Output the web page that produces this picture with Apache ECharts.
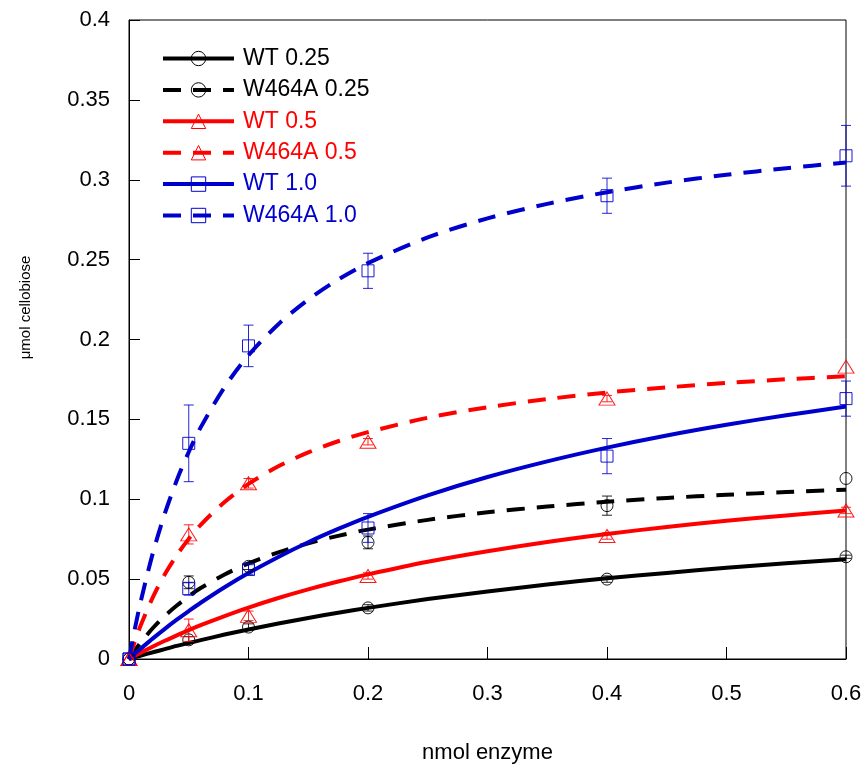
<!DOCTYPE html>
<html>
<head>
<meta charset="utf-8">
<script src="https://cdn.jsdelivr.net/npm/echarts@6/dist/echarts.min.js"></script>
<style>html,body{margin:0;padding:0;background:#fff}#c{width:866px;height:769px}</style>
</head>
<body>
<div id="c"></div>
<script>
// Measured points (x = nmol enzyme)
const xPts = [0, 0.05, 0.1, 0.2, 0.4, 0.6];
const wt025 = [0, 0.012, 0.020, 0.032, 0.050, 0.064];
const wt025Err = [0, 0.002, 0.002, 0.002, 0.002, 0.001];
const w464a025 = [0, 0.048, 0.058, 0.073, 0.096, 0.113];
const w464a025Err = [0, 0.004, 0.002, 0.004, 0.006, 0];
const wt05 = [0, 0.018, 0.027, 0.052, 0.077, 0.093];
const wt05Err = [0, 0.007, 0.003, 0.002, 0.002, 0.002];
const w464a05 = [0, 0.078, 0.110, 0.136, 0.163, 0.183];
const w464a05Err = [0, 0.006, 0.003, 0.002, 0.002, 0];
const wt10 = [0, 0.044, 0.056, 0.082, 0.127, 0.163];
const wt10Err = [0, 0.004, 0.003, 0.009, 0.011, 0.011];
const w464a10 = [0, 0.135, 0.196, 0.243, 0.290, 0.315];
const w464a10Err = [0, 0.024, 0.013, 0.011, 0.011, 0.019];

// Fitted curves at these x positions
const fitX = [0, 0.005, 0.01, 0.02, 0.03, 0.04, 0.05, 0.06, 0.08, 0.1, 0.125, 0.15, 0.175, 0.2, 0.25, 0.3, 0.35, 0.4, 0.45, 0.5, 0.55, 0.6];
const wt025Fit = [0, 0.0011, 0.0022, 0.0042, 0.0062, 0.0082, 0.0100, 0.0118, 0.0153, 0.0185, 0.0222, 0.0257, 0.0290, 0.0320, 0.0375, 0.0423, 0.0466, 0.0505, 0.0539, 0.0571, 0.0599, 0.0625];
const w464a025Fit = [0, 0.0055, 0.0105, 0.0194, 0.0270, 0.0335, 0.0393, 0.0444, 0.0529, 0.0598, 0.0668, 0.0724, 0.0771, 0.0810, 0.0871, 0.0918, 0.0954, 0.0984, 0.1008, 0.1028, 0.1045, 0.1060];
const wt05Fit = [0, 0.0020, 0.0040, 0.0078, 0.0114, 0.0148, 0.0181, 0.0212, 0.0269, 0.0322, 0.0382, 0.0436, 0.0485, 0.0530, 0.0609, 0.0675, 0.0733, 0.0783, 0.0826, 0.0865, 0.0899, 0.0930];
const w464a05Fit = [0, 0.0113, 0.0214, 0.0387, 0.0530, 0.0650, 0.0752, 0.0840, 0.0983, 0.1096, 0.1206, 0.1293, 0.1363, 0.1420, 0.1510, 0.1576, 0.1627, 0.1668, 0.1700, 0.1728, 0.1751, 0.1770];
const wt10Fit = [0, 0.0034, 0.0066, 0.0129, 0.0189, 0.0246, 0.0300, 0.0352, 0.0449, 0.0538, 0.0639, 0.0731, 0.0814, 0.0890, 0.1024, 0.1139, 0.1237, 0.1323, 0.1399, 0.1466, 0.1526, 0.1580];
const w464a10Fit = [0, 0.0193, 0.0366, 0.0664, 0.0911, 0.1119, 0.1296, 0.1450, 0.1702, 0.1901, 0.2096, 0.2250, 0.2375, 0.2478, 0.2639, 0.2758, 0.2849, 0.2922, 0.2982, 0.3031, 0.3072, 0.3108];

const names = ['WT 0.25', 'W464A 0.25', 'WT 0.5', 'W464A 0.5', 'WT 1.0', 'W464A 1.0'];
const xTicks = [0, 0.1, 0.2, 0.3, 0.4, 0.5, 0.6];

const BLACK = '#000000', RED = '#ff0000', BLUE = '#0000cc';
const groups = [
  {name: names[0], y: wt025, e: wt025Err, fit: wt025Fit, color: BLACK, dashed: false, sym: 'circle', size: 12},
  {name: names[1], y: w464a025, e: w464a025Err, fit: w464a025Fit, color: BLACK, dashed: true, sym: 'circle', size: 12},
  {name: names[2], y: wt05, e: wt05Err, fit: wt05Fit, color: RED, dashed: false, sym: 'triangle', size: [16, 13]},
  {name: names[3], y: w464a05, e: w464a05Err, fit: w464a05Fit, color: RED, dashed: true, sym: 'triangle', size: [16, 13]},
  {name: names[4], y: wt10, e: wt10Err, fit: wt10Fit, color: BLUE, dashed: false, sym: 'rect', size: 12},
  {name: names[5], y: w464a10, e: w464a10Err, fit: w464a10Fit, color: BLUE, dashed: true, sym: 'rect', size: 12}
];

const FONT = 'Liberation Sans, Arial, sans-serif';
const series = [];
groups.forEach(g => {
  series.push({
    name: g.name, type: 'line', smooth: 0.3,
    data: fitX.map((x, i) => [x, g.fit[i]]),
    showSymbol: false, symbol: g.sym, symbolSize: g.size,
    itemStyle: {color: 'rgba(255,255,255,0)', borderColor: g.color, borderWidth: 1},
    lineStyle: {color: g.color, width: 4, type: g.dashed ? [18, 12] : 'solid', cap: 'butt'},
    emphasis: {disabled: true}, z: 2, silent: true
  });
});
groups.forEach(g => {
  series.push({
    name: g.name + ' err', type: 'custom',
    data: xPts.map((x, i) => [x, g.y[i], g.e[i]]),
    renderItem: function (params, api) {
      const x = api.value(0), y = api.value(1), e = api.value(2);
      if (!e) return null;
      const top = api.coord([x, y + e]);
      const bot = api.coord([x, y - e]);
      const hw = 5;
      const st = {stroke: g.color, lineWidth: 1, opacity: 0.85};
      return {type: 'group', children: [
        {type: 'line', shape: {x1: top[0], y1: top[1], x2: bot[0], y2: bot[1]}, style: st},
        {type: 'line', shape: {x1: top[0] - hw, y1: top[1], x2: top[0] + hw, y2: top[1]}, style: st},
        {type: 'line', shape: {x1: bot[0] - hw, y1: bot[1], x2: bot[0] + hw, y2: bot[1]}, style: st}
      ]};
    },
    z: 3, silent: true
  });
});
groups.forEach(g => {
  series.push({
    name: g.name + ' pts', type: 'scatter',
    data: xPts.map((x, i) => [x, g.y[i]]),
    symbol: g.sym, symbolSize: g.size,
    itemStyle: {color: 'rgba(255,255,255,0)', borderColor: g.color, borderWidth: 1, opacity: 0.9},
    emphasis: {disabled: true}, z: 4, silent: true
  });
});

const chart = echarts.init(document.getElementById('c'), null, {renderer: 'canvas'});
chart.setOption({
  animation: false,
  backgroundColor: '#ffffff',
  grid: {left: 129, right: 20, top: 20, bottom: 109, show: true, borderColor: '#000', borderWidth: 1, backgroundColor: 'transparent'},
  legend: {
    left: 156, top: 42, orient: 'vertical', itemWidth: 71, itemHeight: 18, itemGap: 8.4,
    data: groups.map(g => ({name: g.name, textStyle: {color: g.color}})),
    textStyle: {fontFamily: FONT, fontSize: 23, padding: [0, 0, 0, 4]},
    lineStyle: {width: 4},
    itemStyle: {borderWidth: 1},
    selectedMode: false
  },
  xAxis: {
    type: 'value', min: xTicks[0], max: xTicks[xTicks.length - 1], interval: 0.1,
    name: 'nmol enzyme', nameLocation: 'middle', nameGap: 83,
    nameTextStyle: {fontFamily: FONT, fontSize: 22, color: '#000'},
    axisLine: {show: true, onZero: false, lineStyle: {color: '#000', width: 1}},
    axisTick: {show: true, inside: true, length: 12, lineStyle: {color: '#000'}},
    axisLabel: {fontFamily: FONT, fontSize: 22, color: '#000', margin: 24},
    splitLine: {show: false}
  },
  yAxis: {
    type: 'value', min: 0, max: 0.4, interval: 0.05,
    name: 'μmol cellobiose', nameLocation: 'middle', nameGap: 96, nameRotate: 90,
    nameTextStyle: {fontFamily: FONT, fontSize: 15, color: '#000', padding: [0, 0, 0, 64]},
    axisLine: {show: true, onZero: false, lineStyle: {color: '#000', width: 1}},
    axisTick: {show: true, inside: true, length: 11, lineStyle: {color: '#000'}},
    axisLabel: {fontFamily: FONT, fontSize: 22, color: '#000', margin: 19},
    splitLine: {show: false}
  },
  series: series
});
</script>
</body>
</html>
